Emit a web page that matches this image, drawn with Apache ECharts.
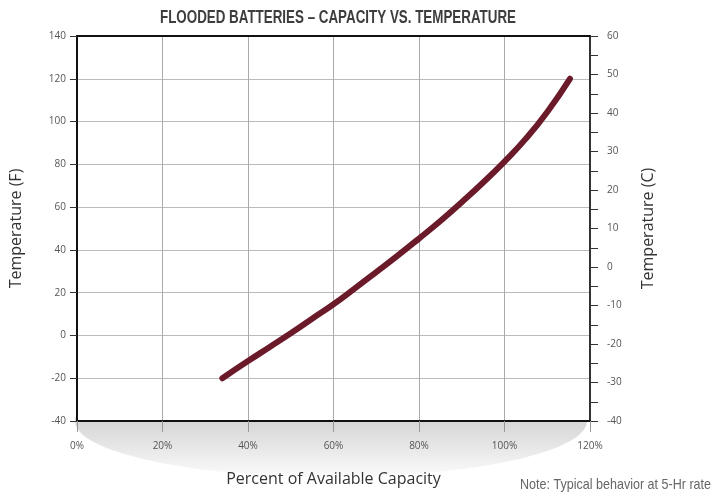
<!DOCTYPE html>
<html>
<head>
<meta charset="utf-8">
<script src="https://cdn.jsdelivr.net/npm/echarts@6/dist/echarts.min.js"></script>
<style>html,body{margin:0;padding:0;background:#fff}#c{width:713px;height:494px}</style>
</head>
<body>
<div id="c"></div>
<script>
// Data
const capacityPct = [34, 40, 45, 50, 55, 60, 65, 70, 75, 80, 85, 90, 95, 100, 105, 110, 115.3];
const temperatureF = [-20, -12, -5.5, 1, 7.8, 14.6, 22, 29.6, 37.3, 45.3, 53.5, 62.3, 71.5, 81.3, 92, 104.5, 120];
const titleText = 'FLOODED BATTERIES – CAPACITY VS. TEMPERATURE';
const noteText = 'Note: Typical behavior at 5-Hr rate';
const xName = 'Percent of Available Capacity';
const yNameF = 'Temperature (F)';
const yNameC = 'Temperature (C)';

const chart = echarts.init(document.getElementById('c'));
const tickFont = { fontFamily: 'Open Sans', fontSize: 10, color: '#555' };
const nameFont = { fontFamily: 'Open Sans', fontSize: 16, color: '#333' };
const condFont = "'Liberation Sans', Arial, sans-serif";

// squeeze text horizontally to mimic a condensed face
const cv = document.createElement('canvas').getContext('2d');
function squeeze(text, font, targetWidth) {
  cv.font = font;
  return targetWidth / cv.measureText(text).width;
}
const titleScale = squeeze(titleText, "bold 19px 'Liberation Sans'", 356);
const noteScale = squeeze(noteText, "15px 'Liberation Sans'", 191);

chart.setOption({
  animation: false,
  backgroundColor: '#fff',
  grid: { left: 77, right: 123, top: 36, bottom: 73, show: true, backgroundColor: '#fff', borderWidth: 0, z: -5 },
  graphic: [
    {
      type: 'ellipse', z: -10, silent: true,
      shape: { cx: 331, cy: 421, rx: 256, ry: 56 },
      style: {
        fill: new echarts.graphic.LinearGradient(0, 0.5, 0, 1, [
          { offset: 0, color: '#d6d6d6' },
          { offset: 0.5, color: '#e8e8e8' },
          { offset: 1, color: '#fbfbfb' }
        ])
      }
    },
    {
      type: 'text', x: 338, y: 8, z: 10, scaleX: titleScale,
      style: { text: titleText, fontFamily: condFont, fontWeight: 'bold', fontSize: 19, fill: '#3d3d3d', align: 'center' }
    },
    {
      type: 'text', x: 711, y: 477, z: 10, scaleX: noteScale,
      style: { text: noteText, fontFamily: condFont, fontSize: 15, fill: '#666', align: 'right' }
    }
  ],
  xAxis: [
    {
      type: 'value', min: 0, max: 120, interval: 20, position: 'bottom',
      name: xName, nameLocation: 'middle', nameGap: 50, nameTextStyle: nameFont,
      axisLine: { show: true, onZero: false, lineStyle: { color: '#111', width: 2 } },
      axisTick: { show: true, length: 11, lineStyle: { color: '#999' } },
      axisLabel: Object.assign({ formatter: '{value}%', margin: 20 }, tickFont),
      splitLine: { show: true, lineStyle: { color: '#aaa', width: 1 } }
    },
    {
      type: 'value', min: 0, max: 120, position: 'top',
      axisLine: { show: true, onZero: false, lineStyle: { color: '#111', width: 2 } },
      axisTick: { show: false }, axisLabel: { show: false }, splitLine: { show: false }
    }
  ],
  yAxis: [
    {
      type: 'value', min: -40, max: 140, interval: 20, position: 'left',
      name: yNameF, nameLocation: 'middle', nameGap: 53, nameTextStyle: nameFont,
      axisLine: { show: true, onZero: false, lineStyle: { color: '#111', width: 2 } },
      axisTick: { show: true, length: 7, lineStyle: { color: '#333' } },
      axisLabel: Object.assign({ margin: 11 }, tickFont),
      splitLine: { show: true, lineStyle: { color: '#bbb', width: 1 } }
    },
    {
      type: 'value', min: -40, max: 60, interval: 10, position: 'right',
      name: yNameC, nameLocation: 'middle', nameGap: 50, nameTextStyle: nameFont,
      axisLine: { show: true, onZero: false, lineStyle: { color: '#333', width: 2 } },
      axisTick: { show: true, length: 8, lineStyle: { color: '#333' } },
      minorTick: { show: true, splitNumber: 2, length: 8, lineStyle: { color: '#333' } },
      axisLabel: Object.assign({ margin: 17, padding: [5, 0, 0, 0] }, tickFont),
      splitLine: { show: false }
    }
  ],
  series: [{
    type: 'line', xAxisIndex: 0, yAxisIndex: 0, smooth: true, showSymbol: false, z: 5,
    data: capacityPct.map((x, i) => [x, temperatureF[i]]),
    lineStyle: { color: '#6b1a2a', width: 6, cap: 'round' }
  }]
});
</script>
</body>
</html>
